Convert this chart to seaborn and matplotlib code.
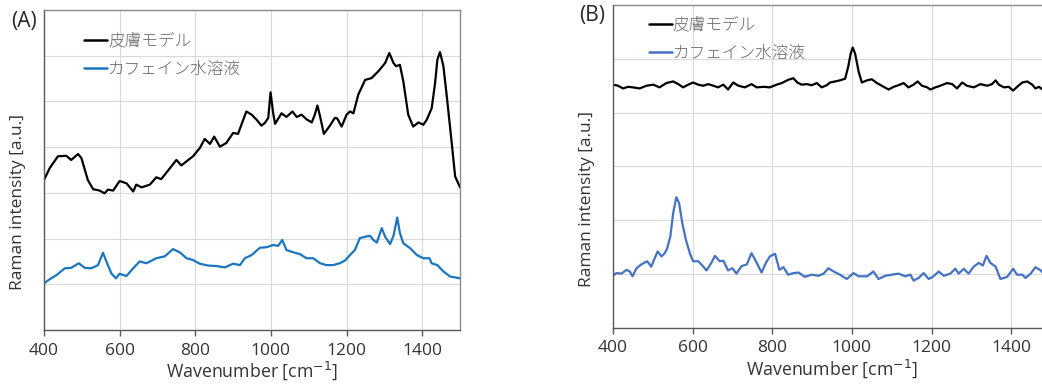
import matplotlib
matplotlib.use("Agg")
import matplotlib.pyplot as plt
import pandas as pd
import seaborn as sns

# Panel A: skin model spectrum (black) and caffeine solution (blue)
wn_a_skin = [400, 415, 437, 459, 472, 490, 499, 516, 530, 547, 560, 569, 583, 600, 618, 636, 644, 658,
             680, 697, 710, 733, 750, 763, 777, 794, 812, 825, 839, 850, 865, 882, 900, 913, 922, 935,
             949, 962, 975, 984, 993, 999, 1006, 1011, 1028, 1041, 1057, 1068, 1081, 1094, 1108, 1116,
             1123, 1130, 1140, 1156, 1169, 1175, 1187, 1200, 1209, 1218, 1231, 1249, 1266, 1284, 1302,
             1313, 1324, 1331, 1341, 1350, 1363, 1376, 1390, 1403, 1412, 1425, 1434, 1440, 1447, 1456,
             1465, 1478, 1487, 1500]
int_a_skin = [3.28, 3.54, 3.80, 3.81, 3.72, 3.85, 3.76, 3.28, 3.08, 3.05, 2.99, 3.07, 3.05, 3.26, 3.21,
              3.03, 3.18, 3.12, 3.18, 3.34, 3.30, 3.54, 3.72, 3.60, 3.69, 3.80, 3.98, 4.18, 4.07, 4.23,
              4.01, 4.09, 4.31, 4.29, 4.49, 4.78, 4.71, 4.60, 4.47, 4.53, 4.64, 5.20, 4.74, 4.51, 4.74,
              4.66, 4.78, 4.66, 4.71, 4.61, 4.54, 4.71, 4.91, 4.67, 4.29, 4.47, 4.64, 4.63, 4.45, 4.71,
              4.78, 4.74, 5.15, 5.47, 5.51, 5.66, 5.84, 6.06, 5.84, 5.77, 5.80, 5.44, 4.71, 4.45, 4.54,
              4.49, 4.60, 4.85, 5.40, 5.91, 6.08, 5.77, 5.11, 4.09, 3.36, 3.12]

wn_a_caf = [400, 415, 433, 455, 472, 492, 508, 525, 543, 556, 565, 578, 590, 600, 618, 636, 653, 671,
            697, 719, 741, 759, 777, 794, 812, 834, 856, 878, 900, 918, 931, 949, 971, 988, 1006, 1019,
            1030, 1041, 1059, 1077, 1094, 1112, 1130, 1147, 1165, 1182, 1196, 1209, 1222, 1235, 1249,
            1262, 1271, 1280, 1293, 1302, 1315, 1324, 1334, 1341, 1350, 1368, 1386, 1403, 1419, 1425,
            1440, 1456, 1474, 1487, 1500]
int_a_caf = [1.02, 1.11, 1.20, 1.35, 1.36, 1.46, 1.36, 1.35, 1.42, 1.69, 1.50, 1.24, 1.13, 1.23, 1.18,
             1.35, 1.50, 1.46, 1.57, 1.61, 1.77, 1.70, 1.57, 1.53, 1.45, 1.41, 1.40, 1.37, 1.45, 1.42,
             1.57, 1.64, 1.80, 1.81, 1.86, 1.84, 1.97, 1.75, 1.70, 1.66, 1.57, 1.57, 1.46, 1.42, 1.42,
             1.46, 1.52, 1.64, 1.75, 2.01, 2.04, 2.06, 1.97, 1.91, 2.23, 2.04, 1.88, 2.06, 2.46, 2.12,
             1.90, 1.79, 1.64, 1.57, 1.57, 1.46, 1.42, 1.28, 1.17, 1.15, 1.13]

# Panel B
wn_b_skin = [400, 413, 425, 438, 450, 467, 484, 501, 517, 534, 551, 564, 576, 589, 601, 614, 627, 639,
             652, 664, 677, 689, 702, 715, 731, 748, 761, 778, 794, 811, 824, 840, 853, 863, 874, 887,
             899, 912, 924, 937, 945, 958, 970, 983, 991, 997, 1002, 1008, 1017, 1025, 1038, 1050, 1063,
             1075, 1092, 1105, 1117, 1130, 1142, 1155, 1165, 1176, 1189, 1197, 1210, 1222, 1239, 1252,
             1264, 1277, 1289, 1306, 1323, 1340, 1352, 1361, 1369, 1382, 1394, 1405, 1415, 1428, 1440,
             1453, 1461, 1470, 1479, 1490, 1500]
int_b_skin = [4.52, 4.50, 4.45, 4.48, 4.47, 4.45, 4.50, 4.52, 4.47, 4.55, 4.58, 4.53, 4.47, 4.52, 4.56,
              4.52, 4.50, 4.53, 4.50, 4.47, 4.52, 4.43, 4.56, 4.50, 4.47, 4.53, 4.47, 4.48, 4.47, 4.52,
              4.55, 4.61, 4.64, 4.56, 4.52, 4.53, 4.51, 4.55, 4.47, 4.51, 4.56, 4.58, 4.60, 4.63, 4.86,
              5.10, 5.21, 5.10, 4.76, 4.56, 4.60, 4.62, 4.55, 4.50, 4.43, 4.48, 4.51, 4.55, 4.47, 4.52,
              4.58, 4.50, 4.47, 4.43, 4.47, 4.50, 4.55, 4.53, 4.45, 4.56, 4.50, 4.47, 4.53, 4.50, 4.53,
              4.60, 4.52, 4.47, 4.48, 4.41, 4.48, 4.56, 4.58, 4.52, 4.45, 4.48, 4.43, 4.50, 4.48]

wn_b_caf = [400, 408, 421, 434, 442, 449, 459, 471, 486, 496, 505, 512, 522, 530, 536, 544, 551, 559,
            566, 574, 583, 593, 601, 614, 622, 635, 647, 656, 668, 677, 689, 700, 710, 723, 736, 748,
            759, 773, 784, 794, 807, 818, 828, 840, 853, 866, 882, 899, 916, 929, 941, 954, 970, 987,
            1004, 1017, 1038, 1054, 1067, 1084, 1100, 1117, 1134, 1147, 1155, 1168, 1180, 1193, 1205,
            1218, 1231, 1247, 1260, 1268, 1281, 1293, 1306, 1319, 1329, 1338, 1348, 1361, 1373, 1390,
            1405, 1415, 1428, 1436, 1449, 1461, 1474, 1479, 1490, 1500]
int_b_caf = [0.97, 1.02, 1.01, 1.08, 1.05, 0.96, 1.11, 1.18, 1.24, 1.14, 1.30, 1.42, 1.33, 1.39, 1.48,
             1.70, 2.13, 2.43, 2.32, 1.95, 1.64, 1.39, 1.24, 1.24, 1.18, 1.07, 1.21, 1.34, 1.24, 1.25,
             1.07, 1.11, 1.01, 1.15, 1.18, 1.39, 1.24, 1.03, 1.21, 1.33, 1.38, 1.08, 1.13, 0.99, 1.02,
             1.03, 0.95, 0.99, 0.97, 1.01, 1.11, 1.05, 0.99, 0.91, 1.02, 0.96, 0.96, 1.05, 0.91, 0.97,
             0.99, 1.01, 0.96, 0.99, 0.88, 0.93, 1.02, 0.91, 0.96, 1.05, 0.97, 1.01, 1.10, 1.01, 1.10,
             1.01, 1.14, 1.21, 1.16, 1.34, 1.21, 1.14, 0.91, 0.95, 1.10, 0.99, 0.99, 0.93, 1.01, 1.13,
             1.07, 1.03, 1.05, 1.02]

labels = ["皮膚モデル", "カフェイン水溶液"]
xticks = [400, 600, 800, 1000, 1200, 1400]

sns.set_theme(style="white")
plt.rcParams["font.family"] = ["Open Sans", "Noto Sans CJK JP", "DejaVu Sans"]

fig = plt.figure(figsize=(10.42, 3.9), dpi=100)
ax_a = fig.add_axes([0.0422, 0.1538, 0.3993, 0.8206])
ax_b = fig.add_axes([0.5883, 0.1590, 0.4203, 0.8282])


def draw(ax, wn1, y1, wn2, y2, blue, ymax, tag, leg_xy, tag_xy):
    df = pd.concat([
        pd.DataFrame({"wn": wn1, "I": y1, "s": labels[0]}),
        pd.DataFrame({"wn": wn2, "I": y2, "s": labels[1]}),
    ])
    sns.lineplot(data=df, x="wn", y="I", hue="s", palette=["black", blue], ax=ax,
                 linewidth=1.6, sort=False, estimator=None)
    ax.set_xlim(400, 1500)
    ax.set_ylim(0, ymax)
    ax.set_xticks(xticks)
    ax.set_xticklabels([str(t) for t in xticks], fontsize=12.5, color="#333333")
    ax.set_yticks(range(ymax + 1))
    ax.set_yticklabels([])
    ax.tick_params(axis="y", length=0)
    ax.tick_params(axis="x", length=4, width=1, color="#595959", direction="out", bottom=True, pad=5)
    ax.grid(True, color="#d9d9d9", linewidth=0.8)
    for s in ["left", "bottom"]:
        ax.spines[s].set_color("#595959")
        ax.spines[s].set_linewidth(1.0)
    for s in ["top", "right"]:
        ax.spines[s].set_color("#8c8c8c")
        ax.spines[s].set_linewidth(1.0)
    ax.set_xlabel("Wavenumber [cm$^{-1}$]", fontsize=12.8, color="#333333", labelpad=1)
    ax.set_ylabel("Raman intensity [a.u.]", fontsize=12.5, color="#333333")
    ax.yaxis.set_label_coords(-0.042, 0.40)
    leg = ax.legend(loc="upper left", bbox_to_anchor=leg_xy, frameon=False,
                    handlelength=1.4, handletextpad=0.05, labelspacing=0.7, borderaxespad=0,
                    labelcolor="#666666",
                    prop={"family": ["Noto Sans CJK JP"], "size": 12, "weight": "light"})
    for line in leg.get_lines():
        line.set_linewidth(1.8)
    ax.text(tag_xy[0], tag_xy[1], tag, transform=ax.transAxes, fontsize=15, color="#262626",
            ha="left", va="center")


draw(ax_a, wn_a_skin, int_a_skin, wn_a_caf, int_a_caf, "#1a76c0", 7, "(A)", (0.08, 0.95), (-0.08, 0.965))
draw(ax_b, wn_b_skin, int_b_skin, wn_b_caf, int_b_caf, "#4472c4", 6, "(B)", (0.066, 0.985), (-0.078, 0.968))

fig.savefig("out.png", dpi=100)
